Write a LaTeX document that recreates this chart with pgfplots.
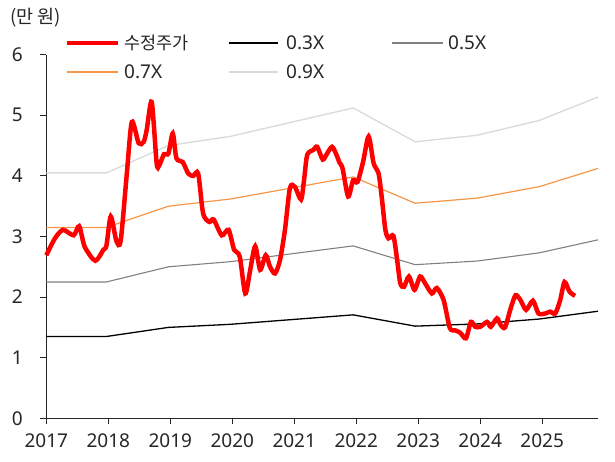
\documentclass[border=0pt]{standalone}
\usepackage{fontspec}
\setmainfont{Noto Sans}
\newfontfamily\kr{Noto Sans CJK KR}
\usepackage{pgfplots}
\pgfplotsset{compat=1.18}
\usepackage{pgfplotstable}
\definecolor{priceRed}{RGB}{255,0,0}
\definecolor{grayFive}{RGB}{128,128,128}
\definecolor{orangeSeven}{RGB}{247,150,70}
\definecolor{grayNine}{RGB}{217,217,217}
\definecolor{txt}{RGB}{38,38,38}
\pgfplotstableread{
x y
2017.00 2.69
2017.14 2.97
2017.27 3.11
2017.44 3.02
2017.53 3.17
2017.62 2.83
2017.79 2.60
2017.92 2.78
2017.97 2.85
2018.04 3.33
2018.13 2.93
2018.20 2.93
2018.30 4.05
2018.38 4.89
2018.49 4.54
2018.57 4.56
2018.62 4.76
2018.70 5.22
2018.78 4.21
2018.82 4.17
2018.90 4.36
2018.97 4.37
2019.04 4.70
2019.10 4.29
2019.20 4.23
2019.29 4.04
2019.37 4.00
2019.45 4.04
2019.53 3.38
2019.63 3.24
2019.70 3.28
2019.83 3.02
2019.94 3.11
2020.03 2.78
2020.12 2.67
2020.21 2.06
2020.29 2.45
2020.37 2.84
2020.45 2.45
2020.54 2.69
2020.61 2.50
2020.69 2.39
2020.77 2.61
2020.85 3.11
2020.93 3.80
2021.01 3.82
2021.11 3.61
2021.16 3.95
2021.21 4.35
2021.31 4.43
2021.37 4.48
2021.46 4.27
2021.53 4.37
2021.61 4.48
2021.68 4.35
2021.73 4.22
2021.78 4.12
2021.87 3.66
2021.95 3.93
2022.02 3.90
2022.11 4.23
2022.20 4.65
2022.28 4.21
2022.36 4.04
2022.41 3.66
2022.47 3.11
2022.52 2.97
2022.60 3.01
2022.66 2.61
2022.71 2.23
2022.77 2.17
2022.85 2.34
2022.94 2.12
2023.03 2.34
2023.11 2.23
2023.22 2.06
2023.30 2.15
2023.41 1.95
2023.51 1.49
2023.60 1.45
2023.68 1.41
2023.77 1.32
2023.85 1.59
2023.92 1.51
2024.00 1.51
2024.11 1.59
2024.17 1.51
2024.27 1.65
2024.33 1.54
2024.40 1.50
2024.49 1.81
2024.57 2.03
2024.65 1.95
2024.74 1.79
2024.85 1.94
2024.94 1.73
2025.05 1.73
2025.13 1.76
2025.21 1.73
2025.29 1.95
2025.36 2.25
2025.44 2.09
2025.53 2.02
}\price
\pgfplotstableread{
x m03 m05 m07 m09
2017.00 1.350 2.250 3.150 4.050
2017.97 1.350 2.250 3.150 4.050
2018.97 1.500 2.500 3.500 4.500
2019.97 1.551 2.585 3.619 4.653
2020.96 1.629 2.715 3.801 4.887
2021.95 1.707 2.845 3.983 5.121
2022.95 1.521 2.535 3.549 4.563
2023.95 1.557 2.595 3.633 4.671
2024.95 1.638 2.730 3.822 4.914
2025.90 1.767 2.945 4.123 5.301
}\mult
\begin{document}
\begin{tikzpicture}[x=1pt,y=1pt]
\path[use as bounding box] (0,0) rectangle (615,461);
\node[anchor=west, font=\kr\fontsize{18.5}{21}\selectfont, text=txt, inner sep=0pt] at (10,443) {(만 원)};
\begin{axis}[
  at={(46.3pt,42.7pt)}, anchor=south west,
  scale only axis, width=551.7pt, height=363.6pt,
  xmin=2017, xmax=2025.9, ymin=0, ymax=6,
  axis x line*=bottom, axis y line*=left,
  axis line style={draw=txt, line width=1pt},
  xtick={2017,2018,...,2025}, ytick={0,1,...,6},
  tick align=outside, major tick length=6pt,
  tick style={draw=txt, line width=1pt},
  /pgf/number format/assume math mode=true,
  /pgf/number format/1000 sep={},
  tick label style={font=\fontsize{19}{22}\selectfont, text=txt},
  xticklabel style={yshift=-6pt},
  yticklabel style={xshift=-14pt},
  clip=false,
]
\addplot[draw=grayNine, line width=1.3pt] table[x=x,y=m09] {\mult};
\addplot[draw=orangeSeven, line width=1.2pt] table[x=x,y=m07] {\mult};
\addplot[draw=grayFive, line width=1.1pt] table[x=x,y=m05] {\mult};
\addplot[draw=black, line width=1.3pt] table[x=x,y=m03] {\mult};
\addplot[draw=priceRed, line width=4.5pt, smooth, tension=0.45] table[x=x,y=y] {\price};
\end{axis}
% legend
\draw[draw=priceRed, line width=4.5pt] (67,418) -- (118,418);
\node[anchor=base west, inner sep=0pt, text=txt, font=\kr\fontsize{17.5}{21}\selectfont] at (124,411.5) {수정주가};
\draw[draw=black, line width=1.3pt] (229,418) -- (278,418);
\node[anchor=base west, inner sep=0pt, text=txt, font=\fontsize{19}{22}\selectfont] at (286,411.2) {0.3X};
\draw[draw=grayFive, line width=1.1pt] (392,418) -- (443,418);
\node[anchor=base west, inner sep=0pt, text=txt, font=\fontsize{19}{22}\selectfont] at (448,411.2) {0.5X};
\draw[draw=orangeSeven, line width=1.3pt] (67,389) -- (118,389);
\node[anchor=base west, inner sep=0pt, text=txt, font=\fontsize{19}{22}\selectfont] at (124,382.2) {0.7X};
\draw[draw=grayNine, line width=1.3pt] (229,389) -- (278,389);
\node[anchor=base west, inner sep=0pt, text=txt, font=\fontsize{19}{22}\selectfont] at (286,382.2) {0.9X};
\end{tikzpicture}
\end{document}
